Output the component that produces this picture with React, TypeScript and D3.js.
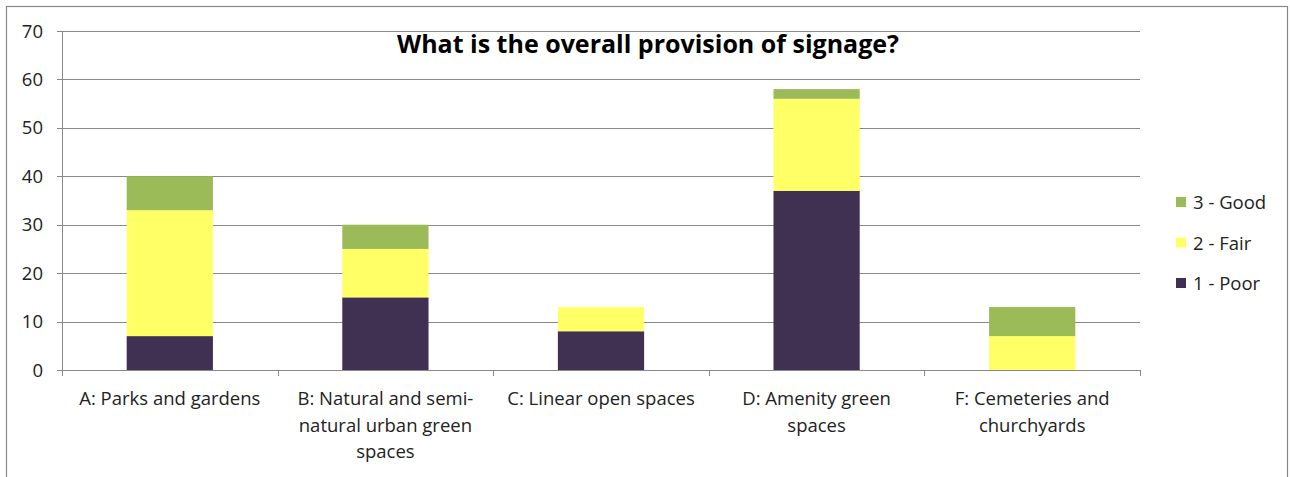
import React from "react";
import * as d3 from "d3";

const categories = [
  ["A: Parks and gardens"],
  ["B: Natural and semi-", "natural urban green", "spaces"],
  ["C: Linear open spaces"],
  ["D: Amenity green", "spaces"],
  ["F: Cemeteries and", "churchyards"],
];
const poor = [7, 15, 8, 37, 0];
const fair = [26, 10, 5, 19, 7];
const good = [7, 5, 0, 2, 6];
const seriesNames = ["1 - Poor", "2 - Fair", "3 - Good"];
const colors = ["#403152", "#FFFF66", "#9BBB59"];
const yTicks = [0, 10, 20, 30, 40, 50, 60, 70];

export default function App() {
  const W = 1290, H = 477;
  const left = 62, right = 1140, top = 31, bottom = 370;
  const font = "'Open Sans', sans-serif";
  const fs = 18.5;
  const x = d3.scaleBand<number>().domain(d3.range(5)).range([left, right]).paddingInner(0.6).paddingOuter(0.3);
  const xOuter = d3.scaleBand<number>().domain(d3.range(5)).range([left, right]);
  const y = d3.scaleLinear().domain([0, 70]).range([bottom, top]);
  const series = [poor, fair, good];
  const stacks = categories.map((_, i) => {
    let acc = 0;
    return series.map((s) => {
      const y0 = acc;
      acc += s[i];
      return [y0, acc];
    });
  });
  return (
    <svg width={W} height={H} style={{ position: "absolute", left: 0, top: 0 }}>
      <rect x={0} y={0} width={W} height={H} fill="#fff" />
      <rect x={6.5} y={6.5} width={1281} height={480} fill="#fff" stroke="#888" strokeWidth={1.2} />
      {yTicks.map((t) => (
        <g key={t}>
          <line x1={left - 5} x2={right} y1={Math.round(y(t)) + 0.5} y2={Math.round(y(t)) + 0.5} stroke="#888" strokeWidth={1} />
          <text x={43} y={y(t) + 6.5} textAnchor="end" fontFamily={font} fontSize={fs} fill="#222">{t}</text>
        </g>
      ))}
      <line x1={left + 0.5} x2={left + 0.5} y1={top} y2={bottom} stroke="#888" />
      {d3.range(6).map((i) => {
        const xx = Math.round(i < 5 ? xOuter(i)! : right) + 0.5;
        return <line key={i} x1={xx} x2={xx} y1={bottom} y2={bottom + 6} stroke="#888" />;
      })}
      {categories.map((_, i) =>
        stacks[i].map(([a, b], k) =>
          b > a ? (
            <rect key={`${i}-${k}`} x={x(i)} width={x.bandwidth()} y={y(b)} height={y(a) - y(b)} fill={colors[k]} />
          ) : null
        )
      )}
      {categories.map((lines, i) => (
        <text key={i} textAnchor="middle" fontFamily={font} fontSize={fs} fill="#222">
          {lines.map((l, j) => (
            <tspan key={j} x={xOuter(i)! + xOuter.bandwidth() / 2} y={405 + j * 26.5}>{l}</tspan>
          ))}
        </text>
      ))}
      <text x={648} y={53} textAnchor="middle" fontFamily={font} fontWeight="bold" fontSize={25} fill="#000">
        What is the overall provision of signage?
      </text>
      {[2, 1, 0].map((k, j) => (
        <g key={k}>
          <rect x={1176} y={197 + j * 40.5} width={10} height={10} fill={colors[k]} />
          <text x={1193} y={209 + j * 40.5} fontFamily={font} fontSize={fs} fill="#222">{seriesNames[k]}</text>
        </g>
      ))}
    </svg>
  );
}
